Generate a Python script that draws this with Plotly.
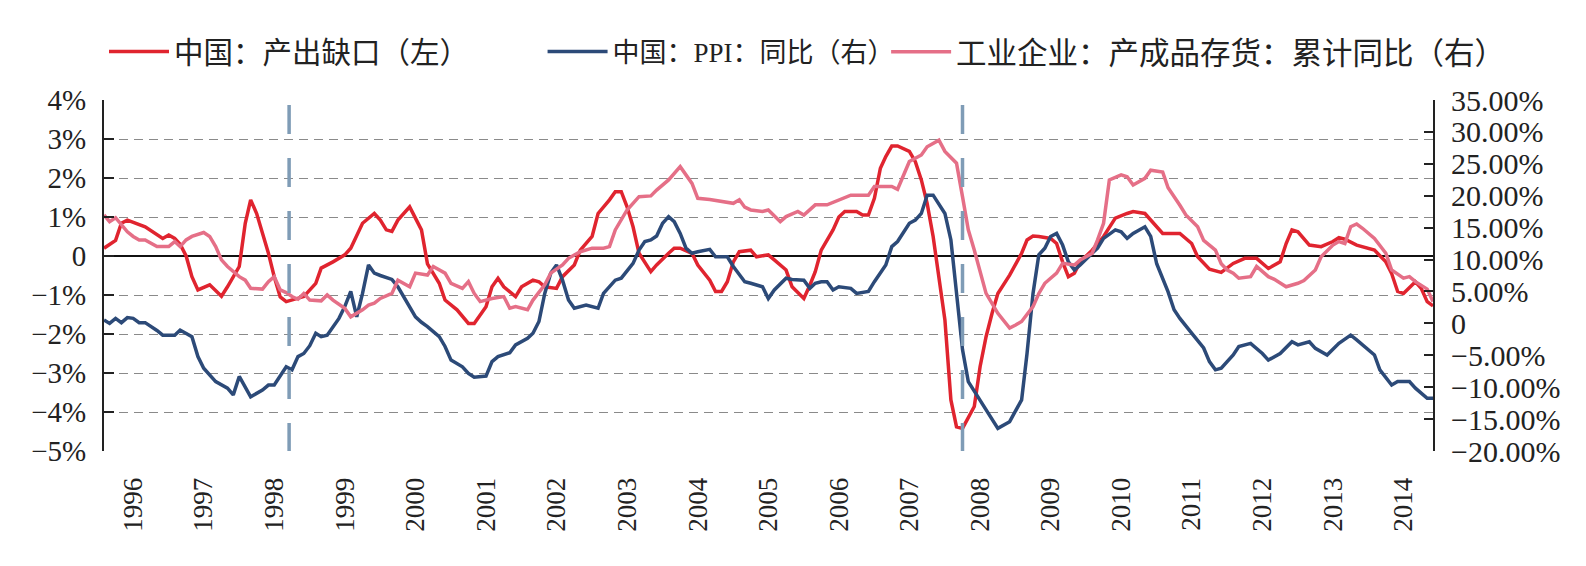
import plotly.graph_objects as go

# ---------------- data ----------------
# 中国：产出缺口（左）  — left axis, %
gap_pts = [
    ("1996-02", 0.2), ("1996-04", 0.4), ("1996-05", 0.84), ("1996-06", 0.92), ("1996-09", 0.75),
    ("1996-11", 0.54), ("1996-12", 0.45), ("1997-01", 0.54), ("1997-02", 0.45), ("1997-03", 0.3),
    ("1997-04", 0.0), ("1997-05", -0.53), ("1997-06", -0.87), ("1997-08", -0.74), ("1997-10", -1.03),
    ("1997-11", -0.79), ("1998-01", -0.27), ("1998-02", 0.84), ("1998-03", 1.44), ("1998-04", 1.09),
    ("1998-06", 0.07), ("1998-07", -0.53), ("1998-08", -1.05), ("1998-09", -1.17), ("1998-11", -1.09),
    ("1998-12", -1.04), ("1999-02", -0.70), ("1999-03", -0.31), ("1999-05", -0.15), ("1999-07", 0.03),
    ("1999-08", 0.2), ("1999-10", 0.84), ("1999-12", 1.09), ("2000-01", 0.92), ("2000-02", 0.67),
    ("2000-03", 0.63), ("2000-04", 0.92), ("2000-06", 1.26), ("2000-08", 0.67), ("2000-09", -0.2),
    ("2000-11", -0.7), ("2000-12", -1.13), ("2001-02", -1.38), ("2001-04", -1.73), ("2001-05", -1.73),
    ("2001-07", -1.3), ("2001-08", -0.79), ("2001-09", -0.57), ("2001-10", -0.79), ("2001-12", -1.04),
    ("2002-01", -0.79), ("2002-03", -0.62), ("2002-04", -0.66), ("2002-05", -0.79), ("2002-07", -0.83),
    ("2002-08", -0.53), ("2002-10", -0.23), ("2002-11", 0.15), ("2003-01", 0.5), ("2003-02", 1.09),
    ("2003-04", 1.44), ("2003-05", 1.65), ("2003-06", 1.65), ("2003-07", 1.26), ("2003-08", 0.75),
    ("2003-09", 0.07), ("2003-11", -0.4), ("2003-12", -0.23), ("2004-02", 0.07), ("2004-03", 0.2),
    ("2004-04", 0.2), ("2004-06", 0.07), ("2004-07", -0.23), ("2004-09", -0.62), ("2004-10", -0.91),
    ("2004-11", -0.91), ("2004-12", -0.66), ("2005-01", -0.15), ("2005-02", 0.11), ("2005-04", 0.15),
    ("2005-05", -0.02), ("2005-07", 0.03), ("2005-08", -0.1), ("2005-10", -0.36), ("2005-11", -0.79),
    ("2006-01", -1.09), ("2006-02", -0.75), ("2006-03", -0.4), ("2006-04", 0.15), ("2006-06", 0.67),
    ("2006-07", 1.0), ("2006-08", 1.14), ("2006-10", 1.14), ("2006-11", 1.05), ("2006-12", 1.05),
    ("2007-01", 1.48), ("2007-02", 2.25), ("2007-03", 2.55), ("2007-04", 2.82), ("2007-05", 2.82),
    ("2007-07", 2.68), ("2007-08", 2.42), ("2007-09", 1.95), ("2007-10", 1.35), ("2007-11", 0.5),
    ("2007-12", -0.62), ("2008-01", -1.64), ("2008-02", -3.69), ("2008-03", -4.38), ("2008-04", -4.42),
    ("2008-06", -3.86), ("2008-07", -2.84), ("2008-08", -2.07), ("2008-09", -1.47), ("2008-10", -0.96),
    ("2008-12", -0.49), ("2009-02", 0.07), ("2009-03", 0.41), ("2009-04", 0.51), ("2009-05", 0.5),
    ("2009-07", 0.45), ("2009-08", 0.32), ("2009-09", -0.15), ("2009-10", -0.53), ("2009-11", -0.44),
    ("2009-12", -0.15), ("2010-02", 0.15), ("2010-04", 0.5), ("2010-05", 0.75), ("2010-06", 0.97),
    ("2010-08", 1.09), ("2010-09", 1.14), ("2010-11", 1.09), ("2010-12", 0.92), ("2011-01", 0.75),
    ("2011-02", 0.58), ("2011-05", 0.58), ("2011-07", 0.32), ("2011-08", -0.02), ("2011-10", -0.34),
    ("2011-12", -0.42), ("2012-02", -0.19), ("2012-04", -0.06), ("2012-06", -0.06), ("2012-08", -0.32),
    ("2012-10", -0.15), ("2012-11", 0.32), ("2012-12", 0.67), ("2013-01", 0.62), ("2013-03", 0.28),
    ("2013-05", 0.24), ("2013-07", 0.37), ("2013-08", 0.47), ("2013-09", 0.43), ("2013-11", 0.28),
    ("2013-12", 0.24), ("2014-02", 0.15), ("2014-04", -0.15), ("2014-05", -0.45), ("2014-06", -0.91),
    ("2014-07", -0.96), ("2014-09", -0.66), ("2014-10", -0.83), ("2014-11", -1.17), ("2014-12", -1.28),
]

# 中国：PPI：同比（右） — right axis, %
ppi_pts = [
    ("1996-02", 0.54), ("1996-03", -0.01), ("1996-04", 0.78), ("1996-05", 0.11), ("1996-06", 0.9),
    ("1996-07", 0.78), ("1996-08", 0.11), ("1996-09", 0.11), ("1996-11", -1.11), ("1996-12", -1.85),
    ("1997-02", -1.85), ("1997-03", -1.05), ("1997-05", -2.09), ("1997-06", -5.21), ("1997-07", -7.04),
    ("1997-09", -9.12), ("1997-11", -10.16), ("1997-12", -11.2), ("1998-01", -8.32), ("1998-02", -9.91),
    ("1998-03", -11.5), ("1998-05", -10.46), ("1998-06", -9.67), ("1998-07", -9.67), ("1998-08", -8.32),
    ("1998-09", -6.8), ("1998-10", -7.28), ("1998-11", -5.21), ("1998-12", -4.72), ("1999-01", -3.5),
    ("1999-02", -1.54), ("1999-03", -2.09), ("1999-04", -1.85), ("1999-06", 0.78), ("1999-07", 2.62),
    ("1999-08", 5.0), ("1999-09", 1.03), ("1999-10", 4.69), ("1999-11", 9.15), ("1999-12", 7.87),
    ("2000-01", 7.5), ("2000-03", 6.89), ("2000-04", 5.73), ("2000-06", 2.62), ("2000-07", 1.03),
    ("2000-08", 0.17), ("2000-09", -0.5), ("2000-11", -2.09), ("2000-12", -3.62), ("2001-01", -5.76),
    ("2001-03", -6.8), ("2001-04", -7.83), ("2001-05", -8.45), ("2001-07", -8.26), ("2001-08", -6.0),
    ("2001-09", -5.21), ("2001-11", -4.6), ("2001-12", -3.37), ("2002-02", -2.33), ("2002-03", -1.54),
    ("2002-04", 0.29), ("2002-05", 4.69), ("2002-06", 7.87), ("2002-07", 9.15), ("2002-08", 6.77),
    ("2002-09", 3.65), ("2002-10", 2.37), ("2002-12", 2.86), ("2003-02", 2.37), ("2003-03", 4.69),
    ("2003-05", 6.77), ("2003-06", 7.08), ("2003-08", 9.4), ("2003-09", 11.48), ("2003-10", 12.82),
    ("2003-11", 13.07), ("2003-12", 13.68), ("2004-01", 15.69), ("2004-02", 16.73), ("2004-03", 15.94),
    ("2004-04", 14.1), ("2004-05", 11.78), ("2004-06", 10.99), ("2004-07", 11.23), ("2004-09", 11.6),
    ("2004-10", 10.44), ("2004-12", 10.44), ("2005-01", 8.91), ("2005-03", 6.53), ("2005-04", 6.28),
    ("2005-06", 5.73), ("2005-07", 3.9), ("2005-08", 5.24), ("2005-10", 7.08), ("2005-11", 6.89),
    ("2006-01", 6.77), ("2006-02", 5.49), ("2006-03", 6.28), ("2006-04", 6.53), ("2006-05", 6.53),
    ("2006-06", 5.24), ("2006-07", 5.73), ("2006-09", 5.49), ("2006-10", 4.69), ("2006-12", 5.0),
    ("2007-01", 6.53), ("2007-03", 9.15), ("2007-04", 12.03), ("2007-05", 12.82), ("2007-07", 15.69),
    ("2007-08", 16.18), ("2007-09", 17.22), ("2007-10", 20.09), ("2007-11", 20.09), ("2008-01", 17.22),
    ("2008-02", 13.07), ("2008-03", 4.69), ("2008-04", -4.11), ("2008-05", -9.12), ("2008-07", -11.99),
    ("2008-08", -13.33), ("2008-10", -16.45), ("2008-12", -15.41), ("2009-02", -11.99), ("2009-03", -4.72),
    ("2009-04", 4.69), ("2009-05", 10.74), ("2009-06", 11.78), ("2009-07", 13.62), ("2009-08", 14.1),
    ("2009-09", 12.27), ("2009-10", 9.64), ("2009-11", 8.36), ("2009-12", 9.15), ("2010-02", 10.99),
    ("2010-03", 11.78), ("2010-04", 13.31), ("2010-06", 14.65), ("2010-07", 14.35), ("2010-08", 13.31),
    ("2010-09", 14.1), ("2010-11", 15.14), ("2010-12", 13.62), ("2011-01", 9.34), ("2011-03", 4.94),
    ("2011-04", 2.13), ("2011-05", 0.78), ("2011-06", -0.5), ("2011-07", -1.54), ("2011-09", -3.86),
    ("2011-10", -6.0), ("2011-11", -7.28), ("2011-12", -7.04), ("2012-02", -4.96), ("2012-03", -3.62),
    ("2012-05", -3.13), ("2012-07", -4.72), ("2012-08", -5.76), ("2012-10", -4.72), ("2012-12", -2.88),
    ("2013-01", -3.37), ("2013-03", -2.88), ("2013-04", -3.92), ("2013-06", -4.96), ("2013-08", -3.13),
    ("2013-10", -1.85), ("2013-11", -2.58), ("2014-02", -4.96), ("2014-03", -7.28), ("2014-05", -9.67),
    ("2014-06", -9.12), ("2014-08", -9.12), ("2014-09", -10.16), ("2014-11", -11.75), ("2014-12", -11.75),
]

# 工业企业：产成品存货：累计同比（右） — right axis, %
inv_pts = [
    ("1996-02", 16.98), ("1996-03", 15.94), ("1996-04", 16.55), ("1996-06", 14.35), ("1996-07", 13.62),
    ("1996-08", 13.07), ("1996-09", 13.07), ("1996-11", 12.03), ("1997-01", 12.03), ("1997-02", 12.82),
    ("1997-03", 12.03), ("1997-04", 13.07), ("1997-05", 13.62), ("1997-07", 14.23), ("1997-08", 13.62),
    ("1997-09", 12.03), ("1997-10", 9.95), ("1997-11", 8.91), ("1998-01", 7.32), ("1998-02", 6.77),
    ("1998-03", 5.49), ("1998-05", 5.37), ("1998-06", 6.53), ("1998-07", 7.32), ("1998-08", 5.24),
    ("1998-09", 4.82), ("1998-10", 4.2), ("1998-11", 3.78), ("1998-12", 4.69), ("1999-01", 3.65),
    ("1999-03", 3.53), ("1999-04", 4.45), ("1999-05", 3.65), ("1999-07", 2.37), ("1999-08", 1.03),
    ("1999-10", 2.13), ("1999-11", 2.86), ("1999-12", 3.17), ("2000-01", 3.9), ("2000-03", 4.69),
    ("2000-04", 6.77), ("2000-06", 5.73), ("2000-07", 7.87), ("2000-09", 7.57), ("2000-10", 8.91),
    ("2000-12", 7.87), ("2001-01", 6.28), ("2001-03", 5.49), ("2001-04", 6.53), ("2001-05", 4.69),
    ("2001-06", 3.41), ("2001-08", 3.9), ("2001-10", 4.2), ("2001-11", 2.37), ("2001-12", 2.62),
    ("2002-02", 2.13), ("2002-03", 3.65), ("2002-05", 6.04), ("2002-06", 7.87), ("2002-08", 9.15),
    ("2002-09", 10.19), ("2002-11", 11.23), ("2003-01", 11.78), ("2003-03", 11.78), ("2003-04", 12.03),
    ("2003-05", 14.65), ("2003-07", 17.77), ("2003-09", 19.85), ("2003-11", 19.97), ("2003-12", 20.89),
    ("2004-02", 22.48), ("2004-04", 24.55), ("2004-06", 21.93), ("2004-07", 19.6), ("2004-09", 19.42),
    ("2004-11", 19.05), ("2005-01", 18.81), ("2005-02", 19.36), ("2005-03", 18.2), ("2005-04", 17.77),
    ("2005-06", 17.53), ("2005-07", 17.77), ("2005-09", 15.94), ("2005-10", 16.73), ("2005-12", 17.53),
    ("2006-01", 16.98), ("2006-03", 18.57), ("2006-05", 18.57), ("2006-07", 19.36), ("2006-09", 20.09),
    ("2006-12", 20.09), ("2007-01", 21.44), ("2007-04", 21.44), ("2007-05", 21.01), ("2007-07", 25.35),
    ("2007-09", 26.39), ("2007-10", 27.67), ("2007-12", 28.71), ("2008-01", 26.94), ("2008-03", 25.1),
    ("2008-04", 19.85), ("2008-05", 14.65), ("2008-06", 11.48), ("2008-07", 7.87), ("2008-08", 4.69),
    ("2008-10", 1.58), ("2008-12", -0.75), ("2009-01", -0.26), ("2009-02", 0.29), ("2009-04", 2.62),
    ("2009-05", 4.69), ("2009-06", 6.28), ("2009-08", 7.87), ("2009-09", 9.4), ("2009-11", 9.15),
    ("2009-12", 9.95), ("2010-02", 10.99), ("2010-03", 13.07), ("2010-04", 15.69), ("2010-05", 22.48),
    ("2010-07", 23.27), ("2010-08", 22.97), ("2010-09", 21.68), ("2010-11", 22.72), ("2010-12", 24.0),
    ("2011-02", 23.7), ("2011-03", 21.25), ("2011-05", 18.5), ("2011-06", 16.98), ("2011-08", 15.14),
    ("2011-09", 13.0), ("2011-11", 11.48), ("2011-12", 9.34), ("2012-01", 8.36), ("2012-02", 7.87),
    ("2012-03", 7.08), ("2012-05", 7.32), ("2012-06", 8.91), ("2012-08", 7.32), ("2012-09", 6.89),
    ("2012-11", 5.73), ("2013-01", 6.28), ("2013-02", 6.71), ("2013-04", 8.36), ("2013-05", 10.44),
    ("2013-07", 12.27), ("2013-08", 12.82), ("2013-09", 12.52), ("2013-10", 15.14), ("2013-11", 15.57),
    ("2013-12", 14.9), ("2014-02", 13.31), ("2014-04", 10.99), ("2014-05", 8.36), ("2014-07", 7.08),
    ("2014-08", 7.32), ("2014-09", 6.53), ("2014-11", 5.37), ("2014-12", 3.41),
]

series_names = ["中国：产出缺口（左）", "中国：PPI：同比（右）", "工业企业：产成品存货：累计同比（右）"]
series_colors = ["#e0242f", "#2c4a78", "#e56f87"]

year_labels = [str(y) for y in range(1996, 2015)]
year_tick_dates = [f"{y}-07-01" for y in range(1996, 2015)]
x_range = ["1996-02-01", "2014-12-01"]

left_ticks = [4, 3, 2, 1, 0, -1, -2, -3, -4, -5]
left_ticktext = ["4%", "3%", "2%", "1%", "0", "\u22121%", "\u22122%", "\u22123%", "\u22124%", "\u22125%"]
right_ticks = [35, 30, 25, 20, 15, 10, 5, 0, -5, -10, -15, -20]
right_ticktext = ["35.00%", "30.00%", "25.00%", "20.00%", "15.00%", "10.00%", "5.00%", "0",
                  "\u22125.00%", "\u221210.00%", "\u221215.00%", "\u221220.00%"]

marker_dates = ["1998-09-16", "2008-04-01"]  # vertical dashed reference lines

# ---------------- figure ----------------
SERIF = "Liberation Serif, Times New Roman, serif"
LEG_FONT = "Liberation Serif, Noto Sans CJK SC, serif"

def unzip(pts):
    return [p[0] + "-01" for p in pts], [p[1] for p in pts]

fig = go.Figure()
for pts, name, col, yax, leg in [
    (gap_pts, series_names[0], series_colors[0], "y", "legend"),
    (ppi_pts, series_names[1], series_colors[1], "y2", "legend2"),
    (inv_pts, series_names[2], series_colors[2], "y2", "legend3"),
]:
    xs, ys = unzip(pts)
    fig.add_trace(go.Scatter(x=xs, y=ys, mode="lines", name=name, yaxis=yax, legend=leg,
                             line=dict(color=col, width=3.5)))

for d in marker_dates:
    fig.add_shape(type="line", xref="x", yref="paper", x0=d, x1=d, y0=0.986, y1=0,
                  line=dict(color="#7f9cb6", width=3.5, dash="29px,24px"), layer="above")

def leg(x, size):
    return dict(x=x, orientation="h", yanchor="middle", y=1.137, xanchor="left",
                bgcolor="rgba(0,0,0,0)", borderwidth=0,
                font=dict(family=LEG_FONT, size=size, color="#222222"), itemwidth=60)

fig.update_layout(
    width=1586, height=566,
    margin=dict(l=104, r=153, t=100, b=115),
    paper_bgcolor="white", plot_bgcolor="white",
    showlegend=True,
    legend=leg(0.0, 29.5),
    legend2=leg(0.3300, 27),
    legend3=leg(0.5885, 30.5),
    xaxis=dict(type="date", range=x_range, tickvals=year_tick_dates, ticktext=year_labels,
               tickangle=-90, tickfont=dict(family=SERIF, size=27, color="#222222"),
               ticks="outside", ticklen=15, tickcolor="rgba(0,0,0,0)",
               showgrid=False, zeroline=False, showline=False),
    yaxis=dict(range=[-5, 4], tickvals=left_ticks, ticktext=left_ticktext,
               tickfont=dict(family=SERIF, size=29, color="#222222"),
               showgrid=True, gridcolor="#8a8a8a", gridwidth=1.3, griddash="9px,6px",
               zeroline=True, zerolinecolor="#111111", zerolinewidth=2,
               showline=True, linecolor="#222222", linewidth=2,
               ticks="inside", ticklen=10, tickwidth=2, tickcolor="#222222",
               ticklabelstandoff=10),
    yaxis2=dict(range=[-20, 35], tickvals=right_ticks, ticktext=right_ticktext, overlaying="y",
                side="right", tickfont=dict(family=SERIF, size=30, color="#222222"),
                showgrid=False, zeroline=False,
                showline=True, linecolor="#222222", linewidth=2,
                ticks="inside", ticklen=9, tickwidth=2, tickcolor="#222222",
                ticklabelstandoff=10),
)

fig.write_html("out.html")
